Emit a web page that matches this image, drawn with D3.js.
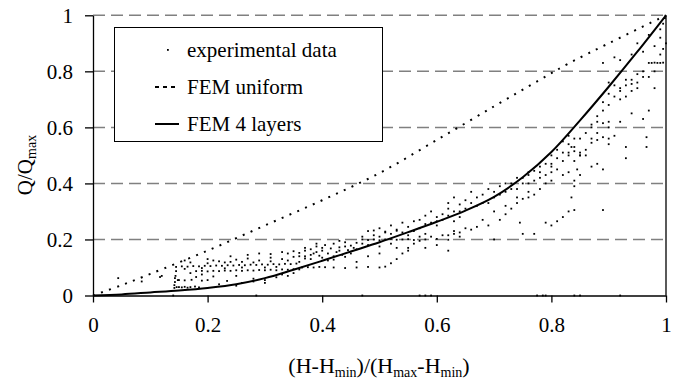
<!DOCTYPE html>
<html>
<head>
<meta charset="utf-8">
<script src="https://cdn.jsdelivr.net/npm/d3@7"></script>
<style>
  body { margin: 0; background: #fff; }
  svg text { font-family: "Liberation Serif", "Times New Roman", "DejaVu Serif", serif; }
</style>
</head>
<body>
<div id="dv"></div>
<script>
// ticks
var xTicks = [0, 0.2, 0.4, 0.6, 0.8, 1];
var yTicks = [0, 0.2, 0.4, 0.6, 0.8, 1];
var gridValues = [0.2, 0.4, 0.6, 0.8, 1];

// FEM uniform (dotted line)
var femUniform = [
  [0, 0], [0.05, 0.037], [0.1, 0.077], [0.2, 0.16], [0.3, 0.25], [0.4, 0.34],
  [0.5, 0.437], [0.6, 0.555], [0.7, 0.675], [0.78, 0.77], [0.83, 0.828],
  [0.9, 0.9], [1, 1]
];

// FEM 4 layers (solid line)
var fem4Layers = [
  [0, 0], [0.05, 0.004], [0.1, 0.011], [0.15, 0.018], [0.2, 0.027], [0.25, 0.04],
  [0.3, 0.062], [0.35, 0.092], [0.4, 0.124], [0.45, 0.157], [0.5, 0.19],
  [0.55, 0.226], [0.6, 0.263], [0.65, 0.303], [0.7, 0.352], [0.75, 0.422],
  [0.8, 0.512], [0.85, 0.625], [0.9, 0.745], [0.95, 0.87], [1, 1]
];

var experimental = [
  // low x
  [0.044, 0.062], [0.117, 0.066], [0.12, 0.07], [0.085, 0.05],
  [0.142, 0.027], [0.142, 0.037], [0.143, 0.048], [0.143, 0.062], [0.144, 0.07],
  [0.145, 0.087], [0.146, 0.03], [0.148, 0.055],
  [0.15, 0.03], [0.155, 0.029], [0.16, 0.031], [0.165, 0.028], [0.17, 0.03],
  [0.178, 0.032], [0.185, 0.029],
  [0.15, 0.055], [0.16, 0.054], [0.172, 0.056], [0.19, 0.053], [0.2, 0.055],
  [0.234, 0.052], [0.26, 0.045], [0.3, 0.055], [0.28, 0.06],
  [0.18, 0.066], [0.21, 0.068], [0.25, 0.07], [0.32, 0.065], [0.34, 0.07],
  [0.18, 0.087], [0.19, 0.088], [0.2, 0.086], [0.21, 0.088], [0.22, 0.087],
  [0.23, 0.089], [0.24, 0.088], [0.25, 0.09], [0.26, 0.088], [0.27, 0.09],
  [0.28, 0.089], [0.29, 0.091], [0.3, 0.09], [0.31, 0.092], [0.32, 0.09],
  [0.33, 0.093], [0.34, 0.092], [0.35, 0.094], [0.36, 0.093],
  [0.145, 0.102], [0.155, 0.104], [0.165, 0.103], [0.175, 0.105], [0.185, 0.104],
  [0.195, 0.106], [0.205, 0.105], [0.215, 0.107], [0.225, 0.106], [0.235, 0.108],
  [0.245, 0.107], [0.255, 0.109], [0.265, 0.108], [0.275, 0.11], [0.285, 0.109],
  [0.295, 0.111], [0.305, 0.11], [0.315, 0.112], [0.325, 0.111], [0.335, 0.113],
  [0.345, 0.112], [0.355, 0.114],
  [0.16, 0.125], [0.2, 0.13], [0.22, 0.122], [0.25, 0.128], [0.27, 0.132],
  [0.29, 0.125], [0.31, 0.135], [0.33, 0.13], [0.35, 0.138], [0.37, 0.132],
  [0.29, 0.15], [0.31, 0.148], [0.33, 0.155], [0.34, 0.15], [0.35, 0.158],
  [0.36, 0.152], [0.37, 0.16],
  [0.24, 0.14], [0.27, 0.145], [0.2, 0.115], [0.23, 0.118],
  [0.22, 0.04], [0.25, 0.035], [0.28, 0.05], [0.3, 0.045], [0.33, 0.075], [0.35, 0.08],
  [0.16, 0.095], [0.17, 0.118], [0.19, 0.098], [0.21, 0.125], [0.23, 0.097],
  [0.24, 0.12], [0.26, 0.1], [0.28, 0.118], [0.3, 0.1], [0.31, 0.122],
  [0.32, 0.102], [0.34, 0.125], [0.36, 0.12], [0.26, 0.12], [0.19, 0.075], [0.17, 0.08],
  // middle
  [0.37, 0.14], [0.38, 0.165], [0.385, 0.15], [0.39, 0.175], [0.395, 0.142],
  [0.4, 0.16], [0.405, 0.18], [0.41, 0.15], [0.415, 0.168], [0.42, 0.185],
  [0.425, 0.155], [0.43, 0.172], [0.435, 0.145], [0.44, 0.19], [0.445, 0.162],
  [0.45, 0.178], [0.455, 0.17], [0.46, 0.188], [0.38, 0.13], [0.4, 0.135],
  [0.42, 0.128], [0.44, 0.138], [0.39, 0.185], [0.43, 0.195],
  [0.38, 0.145], [0.4, 0.17], [0.41, 0.125], [0.43, 0.16], [0.45, 0.15],
  [0.46, 0.165], [0.44, 0.175], [0.39, 0.155], [0.37, 0.17], [0.36, 0.14], [0.42, 0.14],
  [0.365, 0.1], [0.375, 0.101], [0.385, 0.1], [0.395, 0.102], [0.405, 0.101],
  [0.42, 0.1], [0.44, 0.098], [0.46, 0.1], [0.48, 0.102], [0.5, 0.1], [0.51, 0.103],
  [0.52, 0.115], [0.53, 0.13], [0.54, 0.15], [0.55, 0.17], [0.56, 0.185],
  [0.57, 0.195], [0.59, 0.21], [0.61, 0.215], [0.63, 0.22],
  [0.48, 0.198], [0.49, 0.2], [0.5, 0.197], [0.51, 0.2], [0.52, 0.202],
  [0.53, 0.199], [0.54, 0.2], [0.55, 0.201], [0.56, 0.198], [0.58, 0.2],
  [0.6, 0.202], [0.62, 0.199],
  [0.47, 0.21], [0.48, 0.23], [0.49, 0.215], [0.5, 0.24], [0.51, 0.225],
  [0.52, 0.25], [0.53, 0.235], [0.54, 0.26], [0.55, 0.245], [0.56, 0.265],
  [0.47, 0.185], [0.5, 0.175], [0.52, 0.185],
  [0.57, 0.27], [0.58, 0.285], [0.59, 0.3], [0.6, 0.265], [0.61, 0.29],
  [0.62, 0.31], [0.63, 0.3], [0.64, 0.325], [0.62, 0.33], [0.6, 0.25], [0.58, 0.255],
  [0.49, 0.232], [0.51, 0.228], [0.53, 0.231],
  [0.55, 0.16], [0.58, 0.17], [0.6, 0.18], [0.62, 0.16],
  [0.47, 0.2], [0.48, 0.18], [0.5, 0.21], [0.52, 0.22], [0.54, 0.225],
  [0.56, 0.23], [0.57, 0.24], [0.58, 0.22], [0.59, 0.26], [0.6, 0.28],
  [0.61, 0.27], [0.62, 0.285], [0.63, 0.265], [0.64, 0.28], [0.55, 0.215],
  [0.57, 0.21], [0.46, 0.12], [0.48, 0.14], [0.5, 0.15], [0.53, 0.17],
  // upper middle
  [0.63, 0.35], [0.64, 0.3], [0.65, 0.34], [0.66, 0.37], [0.67, 0.32],
  [0.68, 0.36], [0.69, 0.38], [0.7, 0.35], [0.71, 0.39], [0.72, 0.37],
  [0.73, 0.4], [0.74, 0.38], [0.65, 0.31], [0.69, 0.33],
  [0.75, 0.42], [0.76, 0.44], [0.77, 0.41], [0.78, 0.46], [0.79, 0.43],
  [0.8, 0.47], [0.76, 0.4], [0.78, 0.42], [0.8, 0.44], [0.81, 0.45],
  [0.79, 0.4], [0.77, 0.445],
  [0.8, 0.5], [0.81, 0.52], [0.82, 0.48], [0.82, 0.55], [0.83, 0.5],
  [0.83, 0.57], [0.84, 0.53], [0.84, 0.48], [0.85, 0.56], [0.85, 0.5],
  [0.62, 0.215], [0.63, 0.23], [0.64, 0.225], [0.65, 0.24], [0.66, 0.235],
  [0.67, 0.245], [0.69, 0.25], [0.71, 0.27], [0.72, 0.29], [0.73, 0.31],
  [0.74, 0.33], [0.75, 0.345], [0.76, 0.37], [0.77, 0.36],
  [0.79, 0.26], [0.8, 0.25], [0.81, 0.265], [0.82, 0.28], [0.83, 0.3],
  [0.835, 0.35], [0.84, 0.41], [0.845, 0.45], [0.85, 0.5],
  [0.745, 0.26], [0.75, 0.22], [0.77, 0.22], [0.7, 0.2], [0.64, 0.21],
  [0.66, 0.33], [0.67, 0.35], [0.68, 0.33], [0.7, 0.37], [0.71, 0.36],
  [0.72, 0.4], [0.73, 0.38], [0.74, 0.42], [0.75, 0.4], [0.76, 0.43],
  [0.78, 0.44], [0.79, 0.47], [0.8, 0.46], [0.81, 0.49], [0.82, 0.51],
  [0.83, 0.54], [0.84, 0.56], [0.68, 0.27], [0.7, 0.3], [0.72, 0.32],
  [0.74, 0.35], [0.76, 0.35], [0.78, 0.38], [0.8, 0.41], [0.82, 0.43],
  // high x
  [0.89, 0.69], [0.9, 0.72], [0.91, 0.75], [0.92, 0.7], [0.93, 0.77],
  [0.94, 0.73], [0.95, 0.76], [0.96, 0.78], [0.9, 0.76], [0.92, 0.74],
  [0.94, 0.755], [0.95, 0.74], [0.93, 0.71],
  [0.97, 0.83], [0.975, 0.83], [0.98, 0.831], [0.985, 0.83], [0.99, 0.83], [0.995, 0.831],
  [0.87, 0.61], [0.88, 0.62], [0.89, 0.615], [0.9, 0.62],
  [0.83, 0.51], [0.84, 0.515], [0.85, 0.51], [0.86, 0.52], [0.87, 0.545], [0.835, 0.53],
  [0.87, 0.56], [0.88, 0.555], [0.89, 0.565], [0.9, 0.56], [0.91, 0.57],
  [0.83, 0.44], [0.85, 0.43], [0.87, 0.46], [0.89, 0.45], [0.88, 0.47],
  [0.84, 0.39], [0.84, 0.305], [0.89, 0.305],
  [0.94, 0.86], [0.95, 0.9], [0.96, 0.87], [0.97, 0.93], [0.98, 0.89],
  [0.99, 0.95], [0.995, 0.97], [1, 0.9],
  [0.89, 0.83], [0.91, 0.85], [0.92, 0.84],
  [0.96, 0.63], [0.97, 0.66], [0.966, 0.53], [0.966, 0.565], [0.93, 0.49], [0.93, 0.53],
  [0.995, 0.88], [0.998, 0.99],
  [0.86, 0.58], [0.87, 0.6], [0.88, 0.64], [0.89, 0.66], [0.9, 0.68],
  [0.91, 0.71], [0.92, 0.73], [0.93, 0.75], [0.94, 0.77], [0.95, 0.79],
  [0.96, 0.8], [0.97, 0.78], [0.98, 0.8], [0.88, 0.58], [0.9, 0.6],
  [0.92, 0.62], [0.94, 0.65], [0.86, 0.5], [0.9, 0.54], [0.98, 0.74],
  [0.99, 0.86], [0.99, 0.92],
  // on the x axis
  [0.14, 0], [0.285, 0], [0.47, 0], [0.57, 0], [0.58, 0], [0.59, 0],
  [0.775, 0], [0.785, 0], [0.79, 0], [0.84, 0], [0.85, 0], [0.92, 0]
];

var legendLabels = ["experimental data", "FEM uniform", "FEM 4 layers"];

var width = 681;
var height = 382;
var serif = "'Liberation Serif', 'Times New Roman', 'DejaVu Serif', serif";

var svg = d3.select("div#dv")
  .append("svg")
  .attr("width", width)
  .attr("height", height);

var x = d3.scaleLinear().domain([0, 1]).range([93, 666]);
var y = d3.scaleLinear().domain([0, 1]).range([295.5, 15.3]);

// dashed grid
svg.append("g")
  .selectAll("line")
  .data(gridValues)
  .enter()
  .append("line")
  .attr("x1", x(0))
  .attr("x2", x(1))
  .attr("y1", function(d) { return y(d); })
  .attr("y2", function(d) { return y(d); })
  .attr("stroke", "#808080")
  .attr("stroke-width", 1.5)
  .attr("stroke-dasharray", "12,6");

// right border
svg.append("line")
  .attr("x1", x(1)).attr("x2", x(1))
  .attr("y1", y(0)).attr("y2", y(1))
  .attr("stroke", "#000")
  .attr("stroke-width", 1.3);

// experimental points
svg.append("g")
  .selectAll("rect")
  .data(experimental)
  .enter()
  .append("rect")
  .attr("x", function(d) { return x(d[0]) - 0.9; })
  .attr("y", function(d) { return y(d[1]) - 0.9; })
  .attr("width", 1.8)
  .attr("height", 1.8)
  .attr("fill", "#000");

var line = d3.line()
  .x(function(d) { return x(d[0]); })
  .y(function(d) { return y(d[1]); })
  .curve(d3.curveCatmullRom.alpha(0.5));

svg.append("path")
  .datum(femUniform)
  .attr("d", line)
  .attr("fill", "none")
  .attr("stroke", "#000")
  .attr("stroke-width", 2)
  .attr("stroke-dasharray", "2,6.5");

svg.append("path")
  .datum(fem4Layers)
  .attr("d", line)
  .attr("fill", "none")
  .attr("stroke", "#000")
  .attr("stroke-width", 2);

// axes
var xAxis = d3.axisBottom(x)
  .tickValues(xTicks)
  .tickSize(7)
  .tickSizeOuter(0)
  .tickPadding(15)
  .tickFormat(d3.format(""));
var yAxis = d3.axisLeft(y)
  .tickValues(yTicks)
  .tickSize(8)
  .tickSizeOuter(0)
  .tickPadding(12)
  .tickFormat(d3.format(""));

var gx = svg.append("g")
  .attr("transform", "translate(0," + y(0) + ")")
  .call(xAxis);
var gy = svg.append("g")
  .attr("transform", "translate(" + x(0) + ",0)")
  .call(yAxis);

[gx, gy].forEach(function(g) {
  g.attr("font-family", serif).attr("font-size", 21);
  g.select(".domain").attr("stroke", "#000").attr("stroke-width", 1.3);
  g.selectAll(".tick line").attr("stroke", "#000").attr("stroke-width", 1.3);
  g.selectAll(".tick text").attr("fill", "#000");
});

// axis titles
var xt = svg.append("text")
  .attr("x", 379)
  .attr("y", 373)
  .attr("text-anchor", "middle")
  .attr("font-family", serif)
  .style("font-size", "22px");
xt.append("tspan").text("(H-H");
xt.append("tspan").attr("dy", 4).style("font-size", "14px").text("min");
xt.append("tspan").attr("dy", -4).text(")/(H");
xt.append("tspan").attr("dy", 4).style("font-size", "14px").text("max");
xt.append("tspan").attr("dy", -4).text("-H");
xt.append("tspan").attr("dy", 4).style("font-size", "14px").text("min");
xt.append("tspan").attr("dy", -4).text(")");

var yt = svg.append("text")
  .attr("transform", "translate(32,165) rotate(-90)")
  .attr("text-anchor", "middle")
  .attr("font-family", serif)
  .style("font-size", "21px");
yt.append("tspan").text("Q/Q");
yt.append("tspan").attr("dy", 4).style("font-size", "14px").text("max");

// legend
var legend = svg.append("g");
legend.append("rect")
  .attr("x", 114.5)
  .attr("y", 27.5)
  .attr("width", 268)
  .attr("height", 114)
  .attr("fill", "#fff")
  .attr("stroke", "#000")
  .attr("stroke-width", 1);

var rows = legend.selectAll("g.row")
  .data(legendLabels)
  .enter()
  .append("g")
  .attr("class", "row")
  .attr("transform", function(d, i) { return "translate(0," + (50 + i * 37) + ")"; });

rows.append("text")
  .attr("x", 187)
  .attr("y", 7)
  .attr("font-family", serif)
  .style("font-size", "21px")
  .text(function(d) { return d; });

rows.filter(function(d, i) { return i === 0; })
  .append("rect")
  .attr("x", 167).attr("y", -1).attr("width", 1.8).attr("height", 1.8)
  .attr("fill", "#000");
rows.filter(function(d, i) { return i === 1; })
  .append("line")
  .attr("x1", 155).attr("x2", 179).attr("y1", 0).attr("y2", 0)
  .attr("stroke", "#000").attr("stroke-width", 2)
  .attr("stroke-dasharray", "4,4");
rows.filter(function(d, i) { return i === 2; })
  .append("line")
  .attr("x1", 155).attr("x2", 179).attr("y1", 0).attr("y2", 0)
  .attr("stroke", "#000").attr("stroke-width", 2);
</script>
</body>
</html>
